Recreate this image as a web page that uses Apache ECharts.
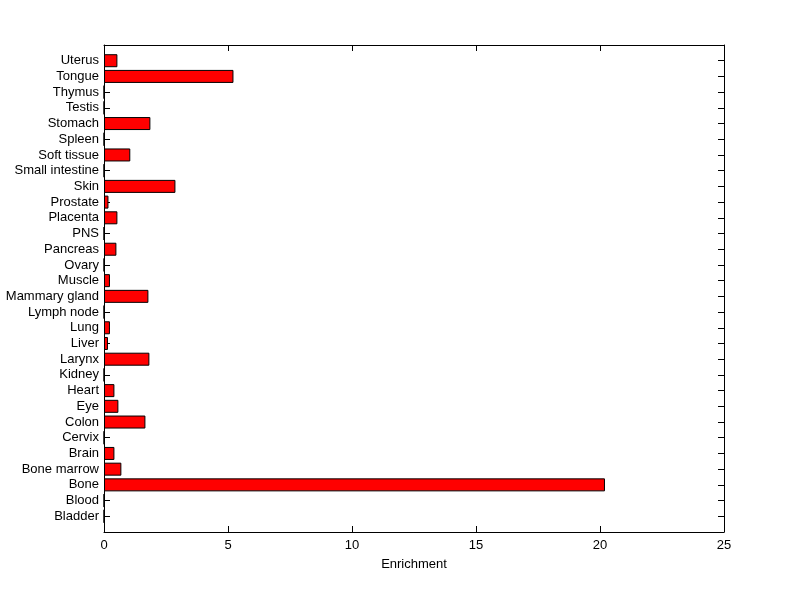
<!DOCTYPE html>
<html>
<head>
<meta charset="utf-8">
<script src="https://cdn.jsdelivr.net/npm/echarts@6/dist/echarts.min.js"></script>
<style>
    html, body { margin: 0; padding: 0; background: #fff; }
    #chart { width: 800px; height: 599px; }
</style>
</head>
<body>
<div id="chart"></div>
<script>
// 组织名称（自下而上）
var tissues = ['Bladder', 'Blood', 'Bone', 'Bone marrow', 'Brain', 'Cervix', 'Colon', 'Eye',
    'Heart', 'Kidney', 'Larynx', 'Liver', 'Lung', 'Lymph node', 'Mammary gland', 'Muscle',
    'Ovary', 'Pancreas', 'PNS', 'Placenta', 'Prostate', 'Skin', 'Small intestine',
    'Soft tissue', 'Spleen', 'Stomach', 'Testis', 'Thymus', 'Tongue', 'Uterus'];
// 富集值
var enrichment = [0, 0, 20.2, 0.70, 0.42, 0, 1.67, 0.58,
    0.42, 0, 1.83, 0.16, 0.24, 0, 1.79, 0.24,
    0, 0.50, 0, 0.54, 0.18, 2.88, 0,
    1.06, 0, 1.87, 0, 0, 5.22, 0.54];
var xTicks = [0, 5, 10, 15, 20, 25];

(function() {
    var chart = echarts.init(document.getElementById('chart'));

    // 两端各留一个空位，和原图的 ylim [0 31] 对齐
    var yData = [''].concat(tissues).concat(['']);
    var barData = ['-'].concat(enrichment).concat(['-']);

    var fontStyle = {
        color: '#000',
        fontSize: 13,
        fontFamily: 'Liberation Sans, Arial, sans-serif'
    };
    var lineStyle = { color: '#000', width: 1 };

    var makeX = function(pos, showLabel) {
        var axis = {
            type: 'value',
            min: xTicks[0],
            max: xTicks[xTicks.length - 1],
            interval: 5,
            position: pos,
            axisLine: { show: true, onZero: false, lineStyle: lineStyle },
            axisTick: { show: true, inside: true, length: 6, lineStyle: lineStyle },
            axisLabel: showLabel ? Object.assign({ margin: 7 }, fontStyle) : { show: false },
            splitLine: { show: false }
        };
        if (showLabel) {
            axis.name = 'Enrichment';
            axis.nameLocation = 'middle';
            axis.nameGap = 26;
            axis.nameTextStyle = fontStyle;
        }
        return axis;
    };

    var makeY = function(pos, showLabel) {
        return {
            type: 'category',
            data: yData,
            boundaryGap: false,
            position: pos,
            axisLine: { show: true, onZero: false, lineStyle: lineStyle },
            axisTick: { show: true, inside: true, length: 6, interval: 0, lineStyle: lineStyle },
            axisLabel: showLabel ? Object.assign({ margin: 5, interval: 0 }, fontStyle) : { show: false },
            splitLine: { show: false }
        };
    };

    var option = {
        backgroundColor: '#fff',
        animation: false,
        grid: {
            left: 104,
            right: 76,
            top: 45,
            bottom: 67,
            containLabel: false
        },
        xAxis: [makeX('bottom', true), makeX('top', false)],
        yAxis: [makeY('left', true), makeY('right', false)],
        series: [{
            name: 'Enrichment',
            type: 'bar',
            xAxisIndex: 0,
            yAxisIndex: 0,
            barWidth: 13,
            itemStyle: {
                color: '#ff0000',
                borderColor: '#000',
                borderWidth: 1
            },
            data: barData
        }]
    };
    chart.setOption(option);
})();
</script>
</body>
</html>
